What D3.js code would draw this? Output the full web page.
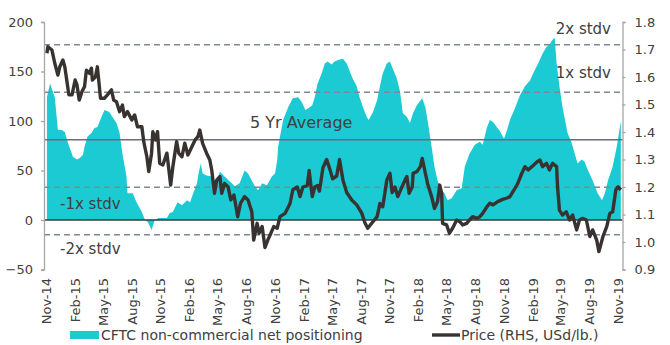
<!DOCTYPE html>
<html>
<head>
<meta charset="utf-8">
<script src="https://cdn.jsdelivr.net/npm/d3@7"></script>
<style>
  html, body { margin: 0; padding: 0; background: #fff; }
  svg { display: block; font-family: "DejaVu Sans", sans-serif; }
</style>
</head>
<body>
<svg id="chart" width="670" height="345"></svg>
<script>
// CFTC non-commercial net positioning (left axis, thousand contracts)
const positioningDates = [
  "2014-11-04","2014-11-14","2014-11-29","2014-12-09","2014-12-21","2014-12-31","2015-01-10","2015-01-26",
  "2015-02-08","2015-02-18","2015-02-27","2015-03-04","2015-03-13","2015-03-26","2015-04-05","2015-04-14",
  "2015-04-27","2015-05-07","2015-05-22","2015-06-01","2015-06-14","2015-06-24","2015-07-03","2015-07-16",
  "2015-07-19","2015-08-05","2015-08-17","2015-09-03","2015-09-13","2015-09-22","2015-10-04","2015-10-14",
  "2015-10-26","2015-11-22","2015-12-01","2015-12-11","2015-12-26","2016-01-09","2016-01-25","2016-02-04",
  "2016-02-14","2016-02-26","2016-03-02","2016-03-09","2016-03-15","2016-03-28","2016-04-13","2016-04-29",
  "2016-05-09","2016-05-24","2016-06-10","2016-06-26","2016-07-11","2016-07-27","2016-08-07","2016-08-19",
  "2016-08-29","2016-09-08","2016-09-21","2016-10-06","2016-10-22","2016-11-01","2016-11-08","2016-11-11",
  "2016-11-17","2016-11-27","2016-12-13","2016-12-28","2017-01-14","2017-01-26","2017-02-06","2017-02-15",
  "2017-02-28","2017-03-08","2017-03-17","2017-03-30","2017-04-09","2017-04-18","2017-05-01","2017-05-10",
  "2017-05-26","2017-06-06","2017-06-18","2017-06-28","2017-07-07","2017-07-20","2017-07-29","2017-08-09",
  "2017-08-21","2017-08-27","2017-09-10","2017-09-23","2017-10-02","2017-10-11","2017-10-24","2017-11-03",
  "2017-11-13","2017-11-25","2017-12-05","2017-12-14","2017-12-27","2018-01-06","2018-01-16","2018-01-28",
  "2018-02-14","2018-02-24","2018-03-03","2018-03-16","2018-03-25","2018-04-04","2018-04-17","2018-04-26",
  "2018-05-06","2018-05-19","2018-06-04","2018-06-20","2018-06-30","2018-07-15","2018-08-01","2018-08-17",
  "2018-08-26","2018-09-09","2018-09-18","2018-09-28","2018-10-10","2018-10-20","2018-11-02","2018-11-12",
  "2018-11-21","2018-12-07","2018-12-23","2019-01-08","2019-01-24","2019-02-03","2019-02-19","2019-03-05",
  "2019-03-18","2019-03-27","2019-04-06","2019-04-13","2019-04-19","2019-04-28","2019-05-08","2019-05-24",
  "2019-06-06","2019-06-16","2019-06-25","2019-07-08","2019-07-17","2019-07-27","2019-08-12","2019-08-28",
  "2019-09-11","2019-09-20","2019-09-30","2019-10-15","2019-10-28","2019-11-07","2019-11-10"
];
const positioningValues = [
  124,138,124,91,91,89,78,64,
  61,63,66,74,84,88,93,94,
  104,111,109,104,98,88,67,44,
  27,27,18,8,0,-2,-10,0,
  2,2,7,8,18,15,20,18,
  27,37,47,57,47,45,44,37,
  49,44,39,34,37,50,47,40,
  34,30,37,35,44,47,60,74,
  84,101,114,123,124,119,111,113,
  116,124,138,148,158,160,157,160,
  162,163,158,150,143,135,124,114,
  104,101,109,121,135,148,158,160,
  152,143,130,108,104,98,108,116,
  123,114,101,74,54,40,30,27,
  20,22,30,32,54,67,76,79,
  76,94,101,99,94,90,82,91,
  101,113,126,135,141,148,158,168,
  175,177,182,184,158,135,114,88,
  78,67,57,61,59,51,40,27,
  20,27,40,54,74,94,100
];

// Price (right axis, USd/lb.)
const priceDates = [
  "2014-11-04","2014-11-07","2014-11-20","2014-11-29","2014-12-09","2014-12-15","2014-12-25","2014-12-31",
  "2015-01-07","2015-01-13","2015-01-23","2015-02-02","2015-02-08","2015-02-15","2015-02-24","2015-03-04",
  "2015-03-10","2015-03-20","2015-03-26","2015-03-29","2015-04-08","2015-04-14","2015-04-24","2015-05-07",
  "2015-05-16","2015-05-29","2015-06-05","2015-06-14","2015-06-24","2015-07-03","2015-07-09","2015-07-19",
  "2015-08-02","2015-08-11","2015-08-20","2015-09-03","2015-09-09","2015-09-19","2015-09-25","2015-10-04",
  "2015-10-08","2015-10-17","2015-10-23","2015-10-30","2015-11-09","2015-11-22","2015-12-04","2015-12-11",
  "2015-12-23","2015-12-30","2016-01-09","2016-01-18","2016-01-28","2016-02-10","2016-02-20","2016-02-29",
  "2016-03-06","2016-03-15","2016-03-28","2016-04-07","2016-04-13","2016-04-22","2016-04-29","2016-05-09",
  "2016-05-15","2016-05-24","2016-06-04","2016-06-13","2016-06-23","2016-07-05","2016-07-14","2016-07-27",
  "2016-08-07","2016-08-19","2016-08-25","2016-09-05","2016-09-11","2016-09-21","2016-09-30","2016-10-09",
  "2016-10-19","2016-10-28","2016-11-08","2016-11-17","2016-12-03","2016-12-19","2016-12-28","2017-01-11",
  "2017-01-20","2017-01-29","2017-02-12","2017-02-18","2017-02-28","2017-03-08","2017-03-17","2017-03-23",
  "2017-04-03","2017-04-15","2017-04-25","2017-05-04","2017-05-17","2017-05-26","2017-06-06","2017-06-18",
  "2017-07-04","2017-07-20","2017-08-05","2017-08-15","2017-08-24","2017-09-07","2017-09-23","2017-10-02",
  "2017-10-11","2017-10-24","2017-11-03","2017-11-10","2017-11-19","2017-11-28","2017-12-11","2017-12-21",
  "2017-12-27","2018-01-03","2018-01-13","2018-01-16","2018-01-28","2018-02-08","2018-02-14","2018-02-24",
  "2018-03-03","2018-03-16","2018-03-25","2018-04-04","2018-04-11","2018-04-17","2018-04-20","2018-05-03",
  "2018-05-12","2018-05-22","2018-06-04","2018-06-14","2018-06-23","2018-07-06","2018-07-15","2018-07-25",
  "2018-08-07","2018-08-17","2018-08-26","2018-09-09","2018-09-18","2018-09-28","2018-10-13","2018-10-29",
  "2018-11-12","2018-11-21","2018-12-07","2018-12-16","2018-12-29","2019-01-08","2019-01-18","2019-01-30",
  "2019-02-16","2019-02-25","2019-03-05","2019-03-18","2019-03-27","2019-04-06","2019-04-19","2019-04-22",
  "2019-04-28","2019-05-08","2019-05-20","2019-05-30","2019-06-09","2019-06-22","2019-07-01","2019-07-11",
  "2019-07-23","2019-08-03","2019-08-12","2019-08-25","2019-09-01","2019-09-14","2019-09-26","2019-10-06",
  "2019-10-15","2019-10-25","2019-11-01","2019-11-10"
];
const priceValues = [
  1.686,1.71,1.698,1.65,1.607,1.637,1.662,1.637,
  1.583,1.535,1.535,1.589,1.571,1.516,1.547,1.565,
  1.625,1.613,1.632,1.589,1.601,1.637,1.523,1.523,
  1.535,1.553,1.516,1.51,1.474,1.498,1.456,1.474,
  1.444,1.462,1.419,1.419,1.365,1.31,1.256,1.323,
  1.401,1.371,1.401,1.286,1.28,1.323,1.207,1.274,
  1.365,1.322,1.31,1.359,1.316,1.347,1.371,1.383,
  1.407,1.359,1.322,1.298,1.262,1.177,1.225,1.238,
  1.177,1.213,1.201,1.153,1.171,1.092,1.141,1.165,
  1.153,1.11,1.007,1.068,1.032,1.056,0.98,1.007,
  1.032,1.056,1.05,1.092,1.104,1.14,1.19,1.2,
  1.165,1.2,1.205,1.26,1.165,1.2,1.205,1.185,
  1.27,1.3,1.265,1.23,1.24,1.3,1.225,1.18,
  1.153,1.135,1.105,1.07,1.05,1.07,1.092,1.14,
  1.128,1.225,1.25,1.18,1.2,1.165,1.2,1.225,
  1.238,1.177,1.2,1.25,1.256,1.274,1.304,1.25,
  1.213,1.165,1.122,1.147,1.207,1.177,1.068,1.062,
  1.032,1.05,1.08,1.074,1.062,1.068,1.08,1.092,
  1.086,1.092,1.104,1.129,1.141,1.135,1.147,1.155,
  1.16,1.165,1.195,1.213,1.25,1.274,1.262,1.274,
  1.292,1.298,1.274,1.286,1.262,1.286,1.274,1.201,
  1.116,1.098,1.11,1.08,1.098,1.044,1.08,1.086,
  1.08,1.02,1.044,1.007,0.965,1.02,1.056,1.104,
  1.11,1.189,1.201,1.19
];

// Five-year average and standard deviation of net positioning
const positioningMean = 81;
const positioningStdev = 48;
const bandLevels = [2, 1, -1, -2];
const bandLabels = ["2x stdv", "1x stdv", "-1x stdv", "-2x stdv"];

const leftTicks = [-50, 0, 50, 100, 150, 200];
const rightTicks = [0.9, 1.0, 1.1, 1.2, 1.3, 1.4, 1.5, 1.6, 1.7, 1.8];
const legendLabels = ["CFTC non-commercial net positioning", "Price (RHS, USd/lb.)"];

const parse = d3.timeParse("%Y-%m-%d");
const positioning = positioningDates.map((d, i) => ({ date: parse(d), value: positioningValues[i] }));
const price = priceDates.map((d, i) => ({ date: parse(d), value: priceValues[i] }));

const svg = d3.select("#chart");
const plotLeft = 44, plotRight = 622.5, plotTop = 22, plotBottom = 269.5;

const x = d3.scaleTime()
  .domain([new Date(2014, 10, 1), new Date(2019, 10, 1)])
  .range([46, 618]);
const yL = d3.scaleLinear().domain([-50, 200]).range([plotBottom, plotTop]);
const yR = d3.scaleLinear().domain([0.9, 1.8]).range([plotBottom, plotTop]);

const teal = "#1ccad4";
const textColor = "#404040";

// Net positioning area
svg.append("path")
  .datum(positioning)
  .attr("fill", teal)
  .attr("d", d3.area()
    .x(d => x(d.date))
    .y0(yL(0))
    .y1(d => yL(d.value)));

// Standard deviation bands
svg.selectAll("line.band")
  .data(bandLevels)
  .join("line")
  .attr("class", "band")
  .attr("x1", plotLeft).attr("x2", plotRight)
  .attr("y1", k => yL(positioningMean + k * positioningStdev))
  .attr("y2", k => yL(positioningMean + k * positioningStdev))
  .attr("stroke", "#7f8891")
  .attr("stroke-width", 1.5)
  .attr("stroke-dasharray", "6,4");

// Five-year average
svg.append("line")
  .attr("x1", plotLeft).attr("x2", plotRight)
  .attr("y1", yL(positioningMean)).attr("y2", yL(positioningMean))
  .attr("stroke", "#6b6f73")
  .attr("stroke-width", 1.5);

// Zero line
svg.append("line")
  .attr("x1", plotLeft).attr("x2", plotRight)
  .attr("y1", yL(0)).attr("y2", yL(0))
  .attr("stroke", "#333b3d")
  .attr("stroke-width", 1.5);

// Price line
svg.append("path")
  .datum(price)
  .attr("fill", "none")
  .attr("stroke", "#383331")
  .attr("stroke-width", 3.4)
  .attr("stroke-linejoin", "round")
  .attr("d", d3.line()
    .x(d => x(d.date))
    .y(d => yR(d.value)));

// Axes
const axisColor = "#a6a6a6";
const gL = svg.append("g")
  .attr("transform", `translate(${plotLeft},0)`)
  .call(d3.axisLeft(yL).tickValues(leftTicks).tickSize(3).tickSizeOuter(3).tickPadding(8));
const gR = svg.append("g")
  .attr("transform", `translate(${plotRight},0)`)
  .call(d3.axisRight(yR).tickValues(rightTicks).tickSize(3).tickSizeOuter(3).tickPadding(9)
    .tickFormat(d3.format(".1f")));
[gL, gR].forEach(g => {
  g.select(".domain").attr("stroke", axisColor).attr("stroke-width", 1.3);
  g.selectAll(".tick line").attr("stroke", axisColor).attr("stroke-width", 1.3);
  g.selectAll(".tick text")
    .attr("fill", textColor)
    .style("font-size", "13px")
    .style("font-family", "DejaVu Sans, sans-serif");
});

// Quarterly date labels, Nov-14 through Nov-19
const quarterTicks = d3.timeMonth.range(new Date(2014, 10, 1), new Date(2019, 11, 1), 3);
const gX = svg.append("g")
  .attr("transform", `translate(0,278)`)
  .call(d3.axisBottom(x).tickValues(quarterTicks).tickSize(0).tickPadding(0)
    .tickFormat(d3.timeFormat("%b-%y")));
gX.select(".domain").remove();
gX.selectAll(".tick text")
  .attr("fill", textColor)
  .style("font-size", "13px")
  .style("font-family", "DejaVu Sans, sans-serif")
  .attr("text-anchor", "end")
  .attr("dy", "0.35em")
  .attr("y", 0)
  .attr("transform", "rotate(-90)");

// Band annotations
const annot = svg.append("g")
  .attr("fill", textColor)
  .style("font-size", "15px");
annot.append("text").attr("x", 611).attr("y", 34).attr("text-anchor", "end").text(bandLabels[0]);
annot.append("text").attr("x", 611).attr("y", 78).attr("text-anchor", "end").text(bandLabels[1]);
annot.append("text").attr("x", 60).attr("y", 209).text(bandLabels[2]);
annot.append("text").attr("x", 60).attr("y", 254).text(bandLabels[3]);
annot.append("text").attr("x", 250).attr("y", 128).style("font-size", "16px").text("5 Yr Average");

// Legend
const legend = svg.append("g").attr("fill", textColor).style("font-size", "14px");
legend.append("rect").attr("x", 70).attr("y", 331).attr("width", 29).attr("height", 8).attr("fill", teal);
legend.append("text").attr("x", 101).attr("y", 335).attr("dy", "0.35em").text(legendLabels[0]);
legend.append("line").attr("x1", 432).attr("x2", 460).attr("y1", 335).attr("y2", 335)
  .attr("stroke", "#383331").attr("stroke-width", 3.4);
legend.append("text").attr("x", 461).attr("y", 335).attr("dy", "0.35em").text(legendLabels[1]);
</script>
</body>
</html>
